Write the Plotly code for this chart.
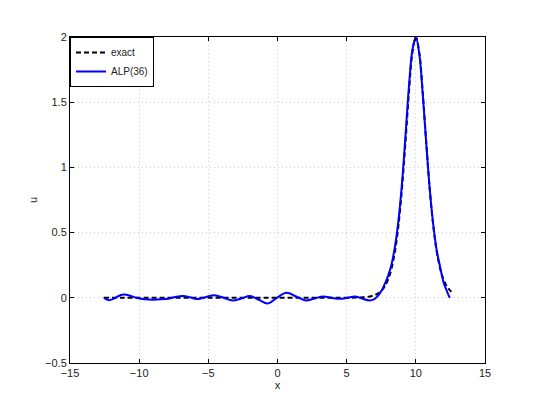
import plotly.graph_objects as go

# exact solution
exact_x = [-12.57, -11.0, -9.0, -7.0, -5.0, -3.0, -1.0, 1.0, 3.0, 5.0, 6.0, 6.5, 7.0,
           7.25, 7.5, 7.75, 8.0, 8.25, 8.5, 8.75, 9.0, 9.25, 9.5, 9.75, 10.0,
           10.25, 10.5, 10.75, 11.0, 11.25, 11.5, 11.75, 12.0, 12.25, 12.5, 12.57]
exact_u = [0.0, 0.0, 0.0, 0.0, 0.0, 0.0, 0.0, 0.0, 0.0, 0.0, 0.003, 0.007, 0.020,
           0.032, 0.053, 0.087, 0.141, 0.228, 0.361, 0.561, 0.840, 1.193, 1.573, 1.880, 2.0,
           1.880, 1.573, 1.193, 0.840, 0.561, 0.361, 0.228, 0.141, 0.087, 0.053, 0.046]

# ALP(36) approximation
alp_x = [-12.5, -12.2, -11.8, -11.4, -11.1, -10.7, -10.2, -9.6, -9.0, -8.4, -7.8,
         -7.3, -6.85, -6.35, -5.85, -5.2, -4.55, -3.9, -3.25, -2.6, -2.0, -1.35,
         -0.7, -0.05, 0.65, 1.35, 2.05, 2.7, 3.3, 3.9, 4.5, 5.05, 5.6, 6.1, 6.65,
         7.0, 7.3, 7.6, 7.85, 8.0, 8.25, 8.5, 8.75, 9.0, 9.25, 9.5, 9.75, 10.0,
         10.25, 10.5, 10.75, 11.0, 11.25, 11.5, 11.75, 12.0, 12.25, 12.45]
alp_u = [-0.005, -0.018, -0.005, 0.018, 0.025, 0.018, 0.0, -0.012, -0.015, -0.012, -0.005,
         0.008, 0.013, 0.005, -0.01, 0.005, 0.02, 0.0, -0.02, -0.005, 0.013, -0.015,
         -0.043, 0.0, 0.038, 0.01, -0.02, -0.005, 0.01, 0.0, -0.008, 0.0, 0.01, -0.005, -0.02,
         -0.01, 0.02, 0.07, 0.13, 0.17, 0.26, 0.40, 0.60, 0.88, 1.24, 1.62, 1.90, 2.0,
         1.87, 1.56, 1.19, 0.84, 0.57, 0.37, 0.24, 0.12, 0.05, 0.0]

fig = go.Figure()

fig.add_trace(
    go.Scatter(
        x=exact_x,
        y=exact_u,
        mode="lines",
        name="exact",
        line={"color": "black", "width": 2, "dash": "5px,3px", "shape": "spline"},
    )
)
fig.add_trace(
    go.Scatter(
        x=alp_x,
        y=alp_u,
        mode="lines",
        name="ALP(36)",
        line={"color": "#0000ff", "width": 2, "shape": "spline"},
    )
)

axis_style = {
    "showline": True,
    "linecolor": "black",
    "linewidth": 1,
    "mirror": "ticks",
    "ticks": "inside",
    "ticklen": 4,
    "tickcolor": "black",
    "showgrid": True,
    "gridcolor": "#cccccc",
    "griddash": "1px,3px",
    "gridwidth": 1,
    "zeroline": False,
    "tickfont": {"size": 11, "color": "#222"},
}

# the page body adds an 8px offset, so the figure is a bit smaller than the window
fig.update_layout(
    width=528,
    height=401,
    margin={"l": 62, "r": 51, "t": 29, "b": 46},
    paper_bgcolor="white",
    plot_bgcolor="white",
    font={"family": "Liberation Sans, Arial, sans-serif", "size": 11, "color": "#222"},
    xaxis={**axis_style, "range": [-15, 15], "dtick": 5,
           "title": {"text": "x", "standoff": 2, "font": {"size": 11}}},
    yaxis={**axis_style, "range": [-0.5, 2], "dtick": 0.5,
           "title": {"text": "u", "standoff": 5, "font": {"size": 11}}},
    legend={
        "x": 0, "y": 1, "xanchor": "left", "yanchor": "top",
        "bgcolor": "white", "bordercolor": "black", "borderwidth": 1,
        "font": {"size": 10}, "itemwidth": 30, "tracegroupgap": 0,
    },
)

fig.write_html("out.html")
